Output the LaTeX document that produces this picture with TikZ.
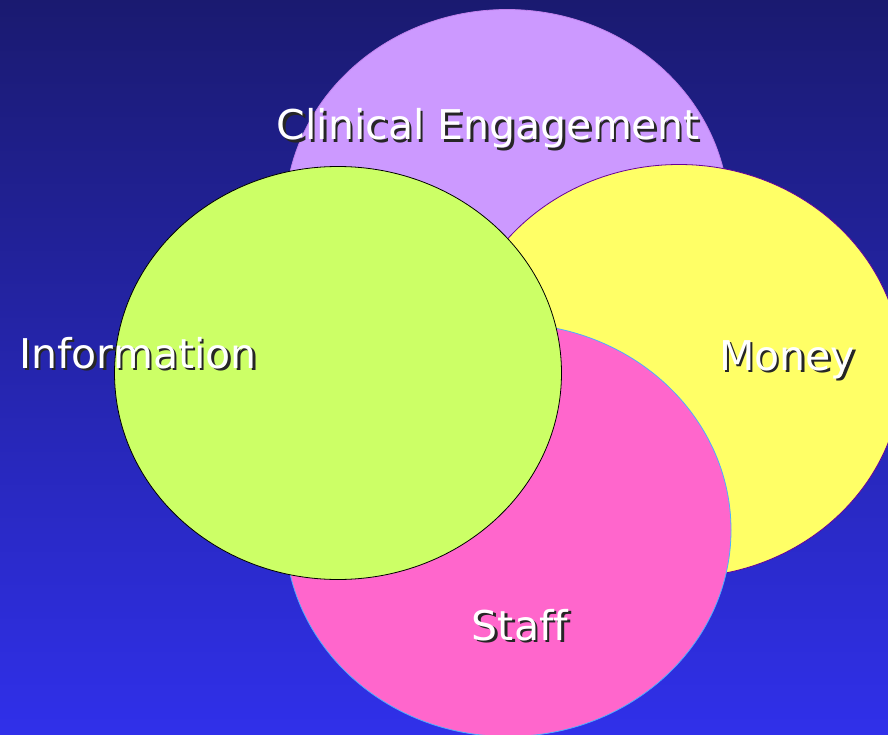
\documentclass[tikz,border=0pt]{standalone}
\usepackage{fontspec}
\setmainfont[Ligatures=NoCommon]{DejaVu Sans}
\usetikzlibrary{positioning}

\definecolor{bgtop}{RGB}{26,26,112}
\definecolor{bgbot}{RGB}{48,48,234}
\definecolor{lilac}{RGB}{204,153,255}
\definecolor{lemon}{RGB}{255,255,102}
\definecolor{rose}{RGB}{255,102,204}
\definecolor{lime}{RGB}{204,255,102}

\begin{document}
\begin{tikzpicture}[x=1pt,y=-1pt,
  blob/.style={line width=0.8pt},
  lab/.style={font=\fontsize{41}{49}\selectfont,text=white,anchor=base,inner sep=0pt},
  labsh/.style={lab,text=black!85}]
\useasboundingbox (0,0) rectangle (888,735);
\clip (0,0) rectangle (888,735);
% background
\shade[top color=bgtop,bottom color=bgbot] (0,0) rectangle (888,735);
% the four ellipses, back to front
\filldraw[blob,fill=lilac,draw=lilac!85!violet] (507,216) ellipse (222 and 206.5);
\filldraw[blob,fill=lemon,draw=violet!80!blue] (679,371) ellipse (223 and 206.5);
\filldraw[blob,fill=rose,draw=blue!45!cyan!70] (508,530) ellipse (223 and 206.5);
\filldraw[blob,fill=lime,draw=black] (338,373) ellipse (223.5 and 206.5);
% labels with drop shadow
\node[labsh] (clin-sh) at (490.5,142.5) {Clinical Engagement};
\node[lab] (clin) at (488,140) {Clinical Engagement};
\node[labsh] (info-sh) at (140.5,370.5) {Information};
\node[lab] (info) at (138,368) {Information};
\node[labsh] (money-sh) at (789.5,372.5) {Money};
\node[lab] (money) at (787,370) {Money};
\node[labsh] (staff-sh) at (522.5,642.5) {Staff};
\node[lab] (staff) at (520,640) {Staff};
\end{tikzpicture}
\end{document}
